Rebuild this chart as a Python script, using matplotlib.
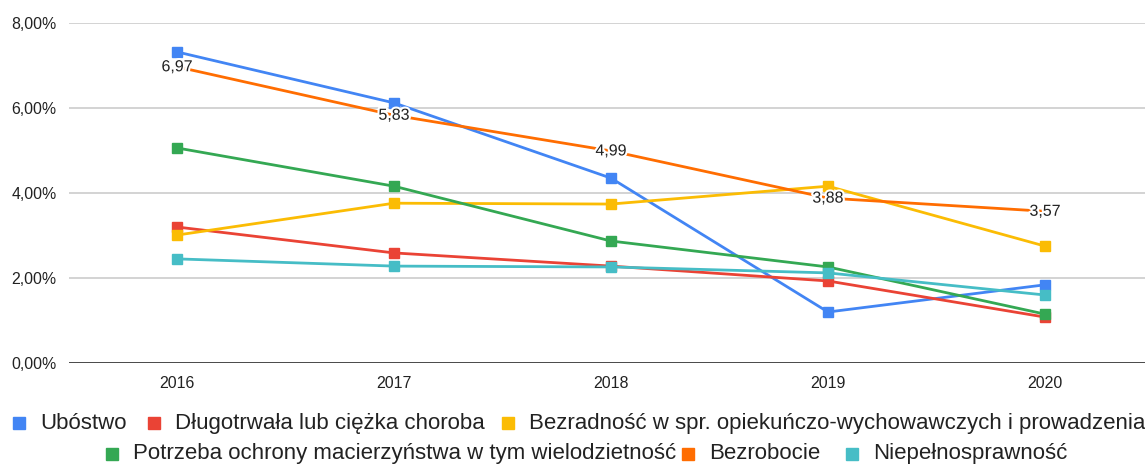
import matplotlib
matplotlib.use("Agg")
import matplotlib.pyplot as plt
import matplotlib.patheffects as pe
from matplotlib.patches import Rectangle

plt.rcParams['font.family'] = ['Liberation Sans', 'DejaVu Sans']

years = ["2016", "2017", "2018", "2019", "2020"]
ubostwo = [7.32, 6.12, 4.35, 1.20, 1.84]
choroba = [3.20, 2.59, 2.28, 1.93, 1.08]
bezradnosc = [3.01, 3.76, 3.74, 4.16, 2.75]
macierzynstwo = [5.06, 4.16, 2.87, 2.26, 1.15]
bezrobocie = [6.97, 5.83, 4.99, 3.88, 3.57]
niepelnosprawnosc = [2.45, 2.28, 2.26, 2.12, 1.60]
bezrobocie_labels = ["6,97", "5,83", "4,99", "3,88", "3,57"]
y_ticks = [0, 2, 4, 6, 8]
y_tick_labels = ["0,00%", "2,00%", "4,00%", "6,00%", "8,00%"]

names = ["Ubóstwo", "Długotrwała lub ciężka choroba",
         "Bezradność w spr. opiekuńczo-wychowawczych i prowadzenia",
         "Potrzeba ochrony macierzyństwa w tym wielodzietność", "Bezrobocie",
         "Niepełnosprawność"]
colors = ["#4285F4", "#EA4335", "#FBBC04", "#34A853", "#FF6D01", "#46BDC6"]
series = [ubostwo, choroba, bezradnosc, macierzynstwo, bezrobocie, niepelnosprawnosc]

W, H = 1145, 465
fig = plt.figure(figsize=(W / 100, H / 100), dpi=100)
ax = fig.add_axes([68.5 / W, 102 / H, 1085 / W, 340 / H])

x = list(range(len(years)))
for i in range(len(series)):
    ms = 0 if i == 4 else 7
    ax.plot(x, series[i], color=colors[i], lw=2.0, marker='s', ms=ms,
            zorder=3 + i * 0.1, solid_joinstyle='round')

for xi, v, lab in zip(x, bezrobocie, bezrobocie_labels):
    ax.text(xi, v, lab, ha='center', va='center', fontsize=11.5, color='#222222',
            zorder=10,
            path_effects=[pe.withStroke(linewidth=3, foreground='white')])

ax.set_xlim(-0.5, len(years) - 0.5)
ax.set_ylim(0, 8)
ax.set_xticks(x)
ax.set_xticklabels(years, fontsize=11.5, color='#222222')
ax.set_yticks(y_ticks)
ax.set_yticklabels(y_tick_labels, fontsize=11.4, color='#222222')
ax.tick_params(axis='both', length=0)
ax.tick_params(axis='y', pad=8.5)
ax.tick_params(axis='x', pad=9)
for s in ax.spines.values():
    s.set_visible(False)
ax.grid(axis='y', color='#cccccc', lw=1.2, zorder=0)
ax.axhline(0, color='#333333', lw=1.2, zorder=2)
ax.set_facecolor('white')

# legend (flow layout like the original)
legend_rows = [
    [(0, 13), (1, 148), (2, 502)],
    [(3, 106), (4, 682), (5, 846)],
]
row_y = [423, 453.5]
sq = 12
for r, row in enumerate(legend_rows):
    yc = row_y[r]
    for idx, xl in row:
        fig.patches.append(Rectangle((xl / W, (H - yc - sq / 2) / H), sq / W, sq / H,
                                     transform=fig.transFigure, color=colors[idx]))
        fig.text((xl + 27) / W, (H - yc) / H, names[idx], fontsize=16.0,
                 color='#222222', va='center', ha='left')

fig.savefig("out.png", dpi=100, facecolor='white')
